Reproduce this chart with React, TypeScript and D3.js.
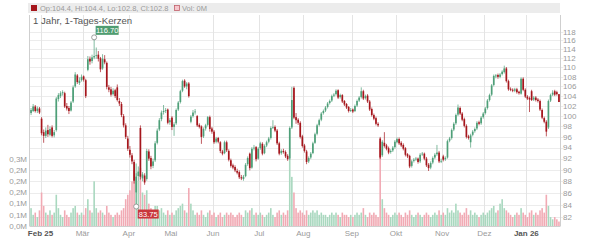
import React from 'react';
import * as d3 from 'd3';

const opens = [100.6,101.0,101.9,101.0,101.5,99.5,96.9,96.2,97.3,96.4,97.8,96.3,97.3,103.4,104.0,104.6,104.6,102.0,101.6,101.1,
102.9,106.0,108.3,106.7,107.3,108.1,107.3,109.5,111.9,111.4,112.2,112.6,112.8,112.0,109.8,111.8,111.0,105.8,105.4,104.4,
105.2,105.8,103.0,102.4,100.0,98.2,95.7,93.6,92.6,91.4,86.1,88.9,97.7,88.5,89.0,88.4,93.3,92.1,90.7,91.7,
94.9,97.4,99.4,100.8,101.1,101.3,98.8,99.7,97.9,98.6,101.3,102.8,105.1,107.2,106.0,106.6,98.9,100.0,100.8,100.0,
98.3,98.0,96.1,97.6,98.3,99.8,97.6,97.0,95.1,95.8,95.0,93.3,93.0,95.0,93.4,91.7,90.8,90.5,89.8,89.6,
88.7,88.4,88.9,91.0,92.9,90.4,93.9,94.1,92.0,93.9,94.7,93.0,94.4,95.1,95.8,97.8,97.9,97.2,94.8,93.0,
93.4,93.2,92.5,92.0,97.8,105.7,99.8,99.3,98.7,96.1,94.4,93.3,91.5,92.2,93.0,94.9,96.6,98.3,99.3,100.6,
101.1,101.8,102.6,103.1,104.1,104.4,105.2,103.8,104.2,103.0,102.4,101.8,101.0,101.3,101.0,102.1,103.1,103.8,105.0,103.6,
104.1,102.9,101.4,100.2,99.6,98.5,95.7,92.6,94.9,94.4,93.9,93.2,93.5,94.1,95.0,95.6,94.9,94.5,93.9,92.8,
92.5,90.7,91.6,91.9,92.0,91.5,92.8,92.9,92.0,90.9,90.4,91.3,92.2,92.8,93.1,91.6,92.4,91.9,92.2,95.3,
95.8,97.4,98.6,100.3,101.6,100.5,99.4,98.1,96.1,95.0,96.4,97.1,97.6,98.8,98.6,99.8,100.6,101.6,103.2,104.3,
106.3,108.1,108.4,108.0,108.6,109.0,109.8,107.1,105.5,105.3,105.1,105.4,104.9,104.5,107.6,105.3,103.9,103.6,105.0,103.3,
103.7,103.3,103.0,101.2,99.6,98.9,97.8,103.1,104.3,105.0,104.8,104.4];

const highs = [101.6,102.4,102.2,101.9,101.8,99.8,97.4,97.8,98.3,98.0,98.2,97.3,103.8,104.6,105.0,105.2,104.9,102.6,102.0,103.0,
106.2,109.0,108.6,107.9,108.5,108.3,107.6,112.5,112.4,112.8,116.7,114.4,113.6,112.3,112.9,112.7,111.3,106.3,105.9,105.6,
105.5,106.4,103.6,102.8,100.4,98.6,96.2,94.3,93.0,91.8,89.4,90.6,98.2,89.6,89.4,93.8,93.7,92.5,92.0,95.2,
97.6,99.6,101.1,102.2,101.6,101.5,99.6,100.0,98.8,101.5,103.0,105.3,107.4,107.5,106.9,106.9,100.2,101.2,101.4,100.2,
98.6,98.2,97.8,98.5,100.0,100.1,97.9,97.3,96.0,96.0,95.2,93.6,95.3,95.3,93.7,92.0,91.1,90.8,90.2,89.9,
89.1,89.1,91.2,92.4,93.1,94.1,94.5,94.3,94.1,95.1,95.0,94.6,95.3,96.0,98.0,99.2,98.2,97.5,95.1,93.7,
93.8,93.5,92.8,98.0,105.9,106.0,100.6,99.6,99.0,96.4,94.7,93.6,92.4,93.2,95.1,96.8,98.5,99.5,100.8,101.3,
102.0,102.8,103.3,104.3,104.6,105.4,105.4,104.5,104.4,103.2,102.6,102.0,101.6,101.5,102.3,103.3,104.0,105.8,105.3,104.3,
104.4,103.2,101.7,100.5,99.9,98.8,96.0,95.4,96.9,94.7,94.2,93.7,94.3,95.4,95.9,95.9,95.2,94.8,94.1,93.0,
92.7,91.8,92.1,92.3,92.2,93.0,93.2,93.1,92.3,91.2,91.5,92.4,93.0,94.5,93.4,92.0,92.7,92.4,95.5,96.0,
97.6,98.8,100.5,102.3,101.9,100.8,99.7,98.4,96.4,96.6,97.3,97.8,99.0,99.1,100.0,100.8,101.8,103.4,104.5,106.5,
108.5,108.6,108.7,108.8,109.4,110.4,110.1,107.4,105.8,105.6,105.7,105.7,105.1,107.9,107.9,105.6,104.2,103.9,105.3,104.0,
104.0,103.6,103.3,101.5,99.9,99.2,103.3,104.5,105.2,105.3,105.1,104.4];

const lows = [100.2,100.8,100.7,100.6,100.4,96.3,94.9,95.8,96.0,96.1,95.9,95.9,97.0,102.9,103.6,104.1,101.6,101.1,100.4,100.9,
102.6,105.7,106.5,106.3,107.0,107.0,103.6,109.2,110.6,110.9,111.8,111.9,111.3,109.0,109.5,110.7,105.4,104.8,103.9,104.1,
103.6,102.9,102.0,99.8,97.8,95.6,93.4,92.2,91.0,87.6,83.75,88.0,88.3,88.0,87.4,88.1,91.6,90.1,90.3,91.4,
94.6,97.1,99.0,100.3,100.6,98.4,98.3,97.3,96.2,98.3,101.0,102.5,104.8,105.7,105.4,103.7,98.6,99.7,100.3,97.9,
97.6,94.7,95.8,97.2,98.0,97.0,96.6,94.7,94.8,94.8,93.0,92.6,92.8,93.2,91.5,90.4,90.1,89.6,89.2,88.4,
88.2,88.1,88.7,90.7,89.9,90.2,93.5,91.5,91.8,93.6,92.6,92.8,94.1,94.8,95.5,97.5,96.9,94.5,92.6,92.7,
92.9,92.1,91.6,91.8,97.5,99.4,98.5,98.3,95.7,94.0,93.1,91.0,91.2,91.9,92.8,94.7,96.3,98.0,99.0,100.3,
100.8,101.5,102.3,102.8,103.8,104.1,103.4,103.5,102.6,102.0,101.4,100.7,100.8,100.6,100.8,101.8,102.8,103.5,103.2,103.3,
102.6,101.0,99.9,99.2,98.2,97.9,91.9,92.3,94.0,93.5,92.8,92.9,93.2,93.8,94.8,94.5,94.1,93.5,92.4,92.1,
90.3,90.4,91.3,91.6,91.1,91.2,92.5,91.7,90.5,89.8,90.1,91.0,91.9,92.5,91.2,91.2,91.5,91.6,92.0,95.0,
95.5,97.1,98.3,100.0,100.2,99.0,97.8,95.7,95.5,94.0,96.1,96.8,97.3,98.2,98.3,99.5,100.3,101.3,102.9,104.0,
106.0,107.7,107.6,107.7,108.3,108.7,106.8,105.1,105.0,104.8,104.8,104.5,104.3,104.3,105.0,103.6,103.2,100.8,103.0,103.0,
102.9,102.7,101.0,99.4,98.6,96.1,97.5,102.8,104.0,104.0,104.1,102.8];

const closes = [101.2,101.9,101.0,101.5,100.7,96.7,96.2,97.2,96.5,97.5,96.2,96.9,103.5,104.2,104.6,104.8,101.9,101.5,101.0,102.7,
105.8,108.5,106.9,107.2,108.0,107.4,104.0,111.8,111.3,112.2,112.5,112.7,111.9,109.6,111.9,111.1,105.9,105.3,104.3,105.1,
104.0,103.2,102.5,100.2,98.2,96.0,93.8,92.7,91.5,88.1,88.8,89.7,88.8,89.2,87.8,93.4,92.0,90.6,91.5,94.8,
97.2,99.2,100.7,101.0,101.2,98.7,99.2,97.9,98.4,101.2,102.7,105.0,107.1,106.0,106.6,104.0,99.9,100.7,100.9,98.2,
97.9,96.0,97.5,98.2,99.8,97.5,97.0,95.0,95.7,95.1,93.4,92.9,95.0,93.5,91.8,90.7,90.4,89.9,89.5,88.7,
88.5,88.8,90.9,92.1,90.3,93.8,94.0,91.9,93.8,94.8,92.9,94.3,95.0,95.7,97.7,97.9,97.2,94.8,92.9,93.4,
93.2,92.4,91.9,97.7,103.2,99.7,99.2,98.7,96.0,94.3,93.4,91.4,92.1,92.9,94.8,96.5,98.2,99.2,100.5,101.0,
101.7,102.5,103.0,104.0,104.3,105.1,103.7,104.2,102.9,102.3,101.7,101.0,101.2,100.9,102.0,103.0,103.7,105.0,103.5,104.0,
102.9,101.3,100.2,99.5,98.5,98.2,92.2,95.1,94.3,93.8,93.1,93.4,94.0,95.1,95.6,94.8,94.4,93.8,92.7,92.4,
90.6,91.5,91.8,92.0,91.4,92.7,92.9,92.0,90.8,90.3,91.2,92.1,92.7,93.1,91.5,91.6,91.8,92.1,95.2,95.7,
97.3,98.5,100.2,101.7,100.5,99.3,98.1,96.0,95.8,96.3,97.0,97.5,98.7,98.5,99.7,100.5,101.5,103.1,104.2,106.2,
108.2,108.3,108.0,108.5,109.1,109.8,107.1,105.4,105.3,105.1,105.4,104.8,104.6,107.6,105.3,103.9,103.5,103.3,103.2,103.7,
103.2,103.0,101.3,99.7,98.9,97.0,103.0,104.2,104.7,104.3,104.4,102.8];

const volumes = [0.08,0.05,0.06,0.04,0.07,0.15,0.09,0.06,0.05,0.07,0.05,0.06,0.14,0.08,0.05,0.04,0.07,0.05,0.04,0.06,
0.08,0.09,0.06,0.05,0.06,0.05,0.08,0.12,0.07,0.06,0.2,0.08,0.06,0.07,0.06,0.05,0.09,0.06,0.05,0.04,
0.05,0.06,0.05,0.07,0.08,0.12,0.14,0.16,0.2,0.25,0.28,0.2,0.26,0.15,0.14,0.16,0.1,0.08,0.07,0.09,
0.09,0.07,0.08,0.06,0.05,0.07,0.05,0.06,0.05,0.07,0.08,0.09,0.1,0.07,0.06,0.17,0.1,0.07,0.05,0.06,
0.05,0.07,0.05,0.04,0.06,0.07,0.05,0.06,0.04,0.05,0.06,0.04,0.05,0.06,0.05,0.06,0.05,0.04,0.05,0.06,
0.05,0.04,0.07,0.06,0.07,0.08,0.05,0.06,0.05,0.06,0.05,0.04,0.05,0.06,0.08,0.05,0.04,0.06,0.07,0.05,
0.06,0.05,0.07,0.3,0.22,0.15,0.08,0.06,0.07,0.06,0.05,0.07,0.05,0.06,0.07,0.06,0.07,0.05,0.06,0.05,
0.05,0.04,0.05,0.06,0.05,0.06,0.05,0.04,0.06,0.05,0.05,0.04,0.05,0.04,0.05,0.06,0.05,0.06,0.08,0.05,
0.04,0.06,0.05,0.06,0.05,0.04,0.38,0.12,0.08,0.06,0.05,0.04,0.05,0.06,0.05,0.06,0.05,0.04,0.06,0.05,
0.07,0.05,0.04,0.05,0.06,0.05,0.04,0.05,0.06,0.05,0.04,0.05,0.06,0.05,0.07,0.05,0.06,0.05,0.08,0.06,
0.07,0.06,0.1,0.07,0.06,0.05,0.06,0.08,0.05,0.07,0.05,0.06,0.05,0.04,0.05,0.06,0.05,0.06,0.07,0.08,
0.09,0.06,0.07,0.1,0.12,0.08,0.07,0.06,0.05,0.04,0.05,0.06,0.05,0.08,0.06,0.05,0.04,0.06,0.07,0.05,
0.06,0.05,0.07,0.08,0.06,0.14,0.09,0.04,0.03,0.04,0.03,0.02];

const priceTicks = d3.range(82, 119, 2);
const volTickValues = [0, 0.05, 0.1, 0.15, 0.2, 0.25, 0.3];
const volTickLabels = ['0,0M', '0,1M', '0,1M', '0,2M', '0,2M', '0,2M', '0,3M'];
const monthLabels = ['Feb 25', 'Mär', 'Apr', 'Mai', 'Jun', 'Jul', 'Aug', 'Sep', 'Okt', 'Nov', 'Dez', 'Jan 26'];
const monthStarts = [5, 25, 47, 67, 87, 109, 130, 153, 174, 196, 216, 236];
const boldLabels = ['Feb 25', 'Jan 26'];
const highLabel = '116.70';
const lowLabel = '83.75';
const legendText = 'Op:104.4, Hi:104.4, Lo:102.8, Cl:102.8';
const title = '1 Jahr, 1-Tages-Kerzen';

const UP = '#4e9f78';
const DOWN = '#a5161c';
const VUP = '#a9d8bf';
const VDOWN = '#f1aab4';
const FONT = 'Liberation Sans, Arial, sans-serif';

export default function App() {
  const N = closes.length;
  const left = 29.5, right = 560.5, top = 15, bottom = 226;
  const x = d3.scaleBand<number>().domain(d3.range(N)).range([30, 560]);
  const y = d3.scaleLog().domain([82, 118]).range([217.3, 31.7]);
  const yv = d3.scaleLinear().domain([0, 0.3]).range([226, 159]);
  const bw = x.bandwidth();
  const hiIdx = d3.maxIndex(highs);
  const loIdx = d3.minIndex(lows);
  const hx = x(hiIdx)! + bw / 2, hy = y(highs[hiIdx]);
  const lx = x(loIdx)! + bw / 2, ly = y(lows[loIdx]);

  return (
    <svg width={600} height={240} style={{ position: 'absolute', left: 0, top: 0, background: '#fff' }} fontFamily={FONT}>
      <rect x={28} y={3} width={532} height={10} fill="#ececec" />
      <rect x={31} y={5} width={6} height={6} fill={DOWN} />
      <text x={40} y={11} fontSize={7.5} fill="#9a9a9a">{legendText}</text>
      <rect x={174.5} y={5.5} width={5} height={5} fill="#f6c6cc" stroke="#c0606c" strokeWidth={0.8} />
      <text x={182} y={11} fontSize={7.5} fill="#9a9a9a">Vol: 0M</text>

      {priceTicks.map(t => (
        <line key={'g' + t} x1={left} x2={right + 3} y1={Math.round(y(t)) + 0.5} y2={Math.round(y(t)) + 0.5} stroke="#ececec" strokeWidth={1} />
      ))}
      {monthStarts.map((m, i) => (
        <line key={'v' + i} x1={Math.round(x(m)!) + 0.5} x2={Math.round(x(m)!) + 0.5} y1={top} y2={bottom} stroke="#e4e4e4" strokeWidth={1} />
      ))}

      <text x={33} y={24} fontSize={9.6} fill="#555">{title}</text>

      {volumes.map((v, i) => (
        <rect key={'vol' + i} x={x(i)! + 0.25} width={bw - 0.5} y={yv(v)} height={yv(0) - yv(v)}
          fill={closes[i] >= opens[i] ? VUP : VDOWN} />
      ))}

      {closes.map((c, i) => {
        const o = opens[i];
        const up = c >= o;
        const cx = x(i)! + bw / 2;
        const col = up ? UP : DOWN;
        const yt = y(Math.max(o, c)), yb = y(Math.min(o, c));
        return (
          <g key={'c' + i}>
            <line x1={cx} x2={cx} y1={y(highs[i])} y2={y(lows[i])} stroke={col} strokeWidth={0.7} />
            <rect x={cx - bw * 0.4} width={bw * 0.8} y={yt} height={Math.max(0.8, yb - yt)} fill={col} />
          </g>
        );
      })}

      <line x1={left} x2={left} y1={top} y2={bottom} stroke="#cfcfcf" />
      <line x1={right} x2={right} y1={top} y2={bottom} stroke="#cfcfcf" />
      <line x1={left} x2={right} y1={bottom + 0.5} y2={bottom + 0.5} stroke="#cfcfcf" />
      {priceTicks.map(t => (
        <text key={'pt' + t} x={563} y={y(t) + 2.8} fontSize={8} fill="#9a9a9a">{t}</text>
      ))}
      {volTickValues.map((v, i) => (
        <text key={'vt' + i} x={27} y={yv(v) + 2.8} fontSize={8} fill="#9a9a9a" textAnchor="end">{volTickLabels[i]}</text>
      ))}
      {monthStarts.map((m, i) => {
        const bold = boldLabels.includes(monthLabels[i]);
        return (
          <text key={'ml' + i} x={x(m)!} y={236} fontSize={8} textAnchor="middle"
            fill={bold ? '#555' : '#9a9a9a'} fontWeight={bold ? 'bold' : 'normal'}>{monthLabels[i]}</text>
        );
      })}

      <rect x={hx + 1.5} y={hy - 11.5} width={23} height={9} fill="#4f9c70" />
      <text x={hx + 13} y={hy - 4.5} fontSize={7.5} fill="#fff" textAnchor="middle">{highLabel}</text>
      <circle cx={hx} cy={hy} r={2.5} fill="#fff" stroke="#888" strokeWidth={0.8} />
      <rect x={lx + 1.5} y={ly + 3} width={21} height={9} fill="#c9363b" />
      <text x={lx + 12} y={ly + 10} fontSize={7.5} fill="#fff" textAnchor="middle">{lowLabel}</text>
      <circle cx={lx} cy={ly} r={2.5} fill="#fff" stroke="#888" strokeWidth={0.8} />
    </svg>
  );
}
